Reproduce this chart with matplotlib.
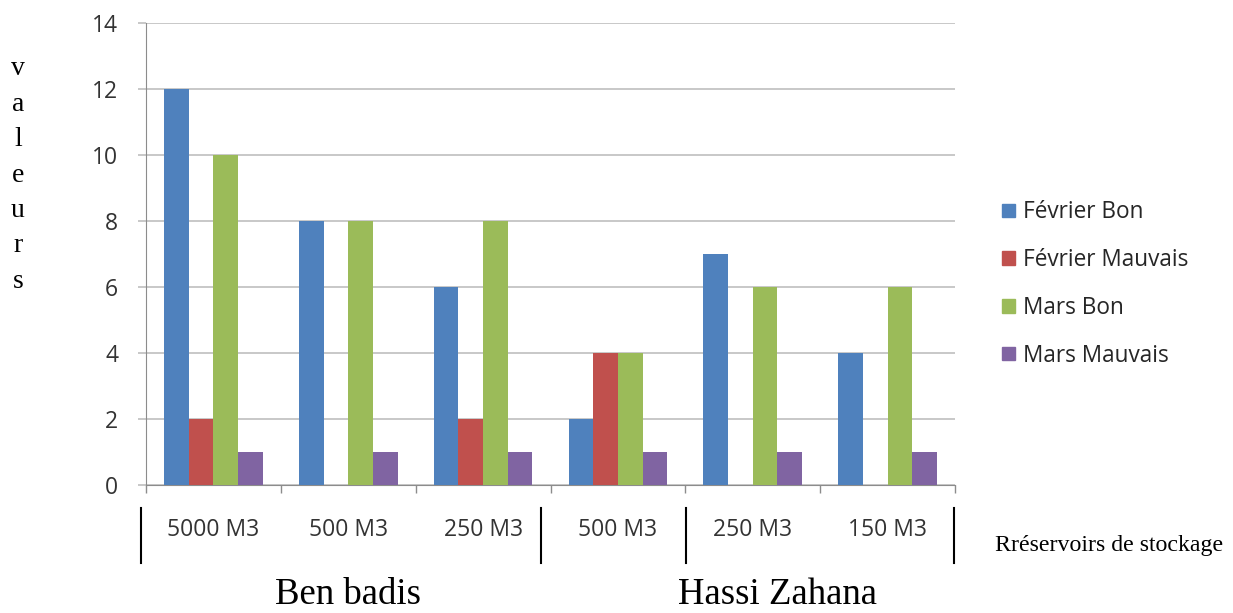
import numpy as np
import matplotlib
matplotlib.use("Agg")
import matplotlib.pyplot as plt
from matplotlib.patches import Patch
from matplotlib.lines import Line2D

# Données
categories = ["5000 M3", "500 M3", "250 M3", "500 M3", "250 M3", "150 M3"]
sites = ["Ben badis", "Hassi Zahana"]
series_names = ["Février Bon", "Février Mauvais", "Mars Bon", "Mars Mauvais"]
fevrier_bon = [12, 8, 6, 2, 7, 4]
fevrier_mauvais = [2, 0, 2, 4, 0, 0]
mars_bon = [10, 8, 8, 4, 6, 6]
mars_mauvais = [1, 1, 1, 1, 1, 1]
couleurs = ["#4F81BD", "#C0504D", "#9BBB59", "#8064A2"]

series = [fevrier_bon, fevrier_mauvais, mars_bon, mars_mauvais]

fig = plt.figure(figsize=(12.33, 6.13), dpi=100)
ax = fig.add_axes([146 / 1233, 1 - 485 / 613, (955 - 146) / 1233, (485 - 23) / 613])

x = np.arange(len(categories))
w = 0.183
for i, (vals, col) in enumerate(zip(series, couleurs)):
    ax.bar(x + (i - 1.5) * w, vals, width=w, color=col, zorder=3)

ax.set_xlim(-0.5, 5.5)
ax.set_ylim(0, 14)
ax.set_yticks(range(0, 15, 2))
ax.grid(axis="y", color="#bfbfbf", lw=1.2, zorder=0)
for s in ["top", "right"]:
    ax.spines[s].set_visible(False)
for s in ["left", "bottom"]:
    ax.spines[s].set_color("#8c8c8c")
ax.tick_params(axis="y", length=6, color="#bfbfbf", width=1.2, pad=14,
               labelsize=16.5, labelcolor="#333333")
for lab in ax.get_yticklabels():
    lab.set_fontfamily("Open Sans")

ax.set_xticks(x)
ax.set_xticklabels(categories, fontfamily="Open Sans", fontsize=16.5, color="#333333")
ax.tick_params(axis="x", which="major", length=0, pad=24)
ax.set_xticks(np.arange(-0.5, 6, 1), minor=True)
ax.tick_params(axis="x", which="minor", length=6, color="#8c8c8c", width=1)

# séparateurs sous l'axe
trans = ax.get_xaxis_transform()
for xs in [-0.535, 2.43, 3.505, 5.49]:
    ax.add_line(Line2D([xs, xs], [-0.05, -0.169], transform=trans, color="black",
                       lw=1.5, clip_on=False))

ax.text(1.0, -0.238, sites[0], transform=trans, ha="center", va="center",
        fontfamily="Liberation Serif", fontsize=26.5)
ax.text(4.18, -0.238, sites[1], transform=trans, ha="center", va="center",
        fontfamily="Liberation Serif", fontsize=26.5)

fig.text(995 / 1233, 1 - 545 / 613, "Rréservoirs de stockage", ha="left", va="center",
         fontfamily="Liberation Serif", fontsize=17.2)

fig.text(18 / 1233, 1 - 175 / 613, "\n".join("valeurs"), ha="center", va="center",
         fontfamily="Liberation Serif", fontsize=20, linespacing=1.55)

handles = [Patch(facecolor=c, edgecolor=c) for c in couleurs]
leg = fig.legend(handles, series_names, loc="center left",
                 bbox_to_anchor=(982 / 1233, 1 - 284 / 613), frameon=False,
                 prop={"family": "Open Sans", "size": 16.3},
                 handlelength=0.55, handleheight=0.55, handletextpad=0.35,
                 labelspacing=1.05)
for t in leg.get_texts():
    t.set_color("#262626")

fig.savefig("out.png", dpi=100)
